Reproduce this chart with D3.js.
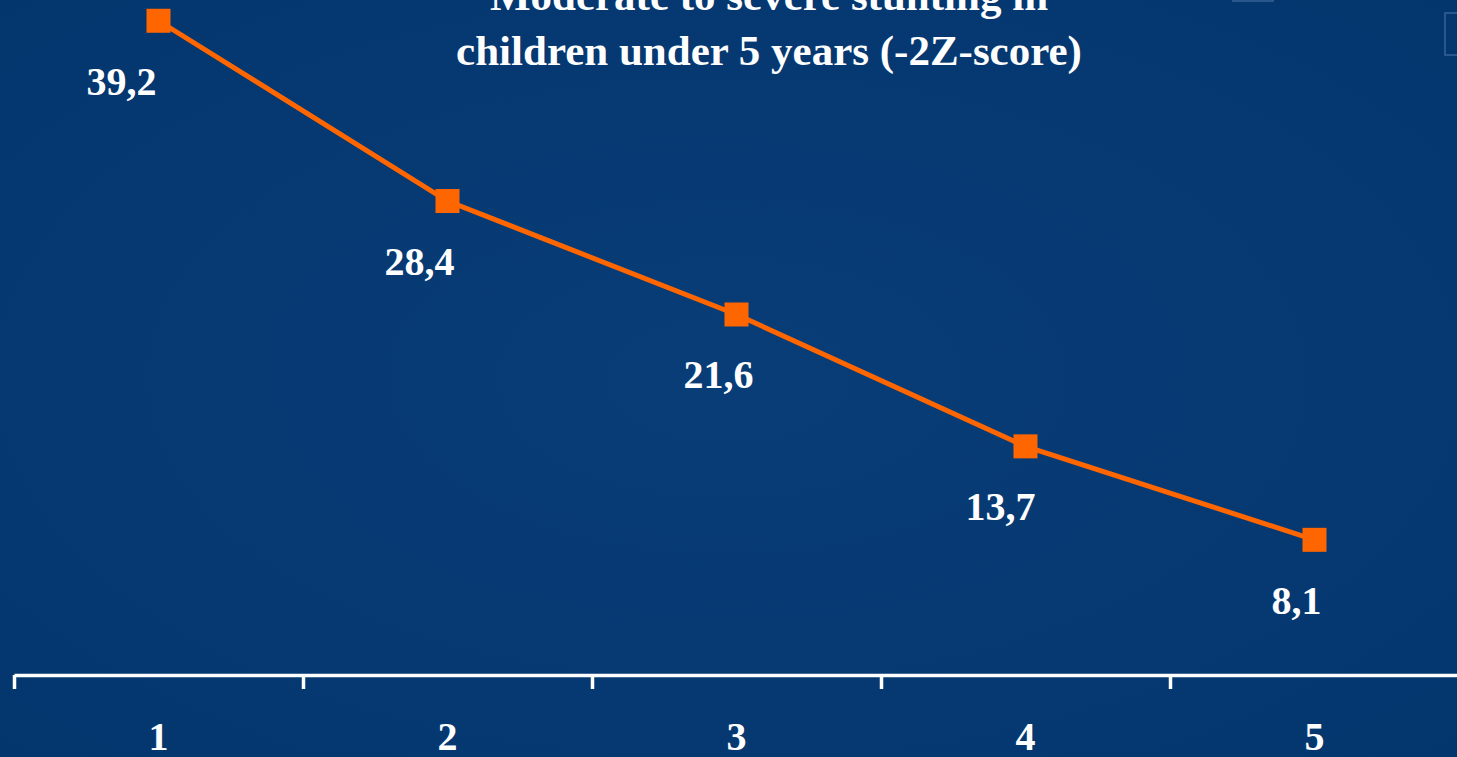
<!DOCTYPE html>
<html>
<head>
<meta charset="utf-8">
<script src="https://cdn.jsdelivr.net/npm/d3@7"></script>
<style>
  html, body { margin: 0; padding: 0; background: #053971; overflow: hidden; }
  svg { display: block; }
  text { font-family: "Liberation Serif", "Times New Roman", serif; font-weight: bold; fill: #ffffff; }
</style>
</head>
<body>
<svg id="chart" width="1457" height="757"></svg>
<script>
// Survey rounds and stunting prevalence (%)
const categories = ["1", "2", "3", "4", "5"];
const stunting = [39.2, 28.4, 21.6, 13.7, 8.1];
const valueLabels = ["39,2", "28,4", "21,6", "13,7", "8,1"];
const titleLines = ["Moderate to severe stunting in", "children under 5 years (-2Z-score)"];

const W = 1457, H = 757;
const svg = d3.select("#chart");

// Background: deep blue with a slightly lighter centre
const defs = svg.append("defs");
const grad = defs.append("radialGradient").attr("id", "bg")
  .attr("cx", "50%").attr("cy", "50%").attr("r", "70%");
grad.append("stop").attr("offset", "0%").attr("stop-color", "#093d77");
grad.append("stop").attr("offset", "100%").attr("stop-color", "#04366e");
svg.append("rect").attr("width", W).attr("height", H).attr("fill", "url(#bg)");

// Faint outline boxes in the top-right corner
svg.append("rect").attr("x", 1233).attr("y", -20).attr("width", 40).attr("height", 21)
  .attr("fill", "none").attr("stroke", "#5a7fb0").attr("stroke-opacity", 0.6).attr("stroke-width", 1.5);
svg.append("rect").attr("x", 1445).attr("y", 13).attr("width", 30).attr("height", 42)
  .attr("fill", "none").attr("stroke", "#5a7fb0").attr("stroke-opacity", 0.6).attr("stroke-width", 1.5);

// Scales: x as a continuous index so ticks sit between categories
const x = d3.scaleLinear().domain([0.5, categories.length + 0.5]).range([14, 1459]);
const y = d3.scaleLinear().domain([0, 45]).range([675, 675 - 45 * 16.69]);

// Axis along the bottom
const boundaries = d3.range(0.5, categories.length + 1, 1);
const axis = d3.axisBottom(x).tickValues(boundaries).tickFormat("").tickSize(14).tickSizeOuter(0);
const axG = svg.append("g").attr("transform", `translate(0,${y(0)})`).call(axis);
axG.select(".domain").attr("stroke", "#ffffff").attr("stroke-width", 3.5);
axG.selectAll(".tick line").attr("stroke", "#ffffff").attr("stroke-width", 3.5);

// Category labels
svg.append("g").selectAll("text").data(categories).join("text")
  .attr("x", (d, i) => x(i + 1))
  .attr("y", 750)
  .attr("text-anchor", "middle")
  .attr("font-size", 40)
  .text(d => d);

// Line
const line = d3.line().x((d, i) => x(i + 1)).y(d => y(d));
svg.append("path").datum(stunting)
  .attr("d", line)
  .attr("fill", "none")
  .attr("stroke", "#ff6600")
  .attr("stroke-width", 5);

// Square markers
const ms = 24;
svg.append("g").selectAll("rect").data(stunting).join("rect")
  .attr("x", (d, i) => x(i + 1) - ms / 2)
  .attr("y", d => y(d) - ms / 2)
  .attr("width", ms).attr("height", ms)
  .attr("fill", "#ff6600");

// Value labels sit below and a little to the left of each point
const labelShift = [-37, -28, -18, -25, -18];
svg.append("g").selectAll("text").data(stunting).join("text")
  .attr("x", (d, i) => x(i + 1) + labelShift[i])
  .attr("y", d => y(d) + 74)
  .attr("text-anchor", "middle")
  .attr("font-size", 40)
  .text((d, i) => valueLabels[i]);

// Title
svg.append("g").selectAll("text").data(titleLines).join("text")
  .attr("x", 769)
  .attr("y", (d, i) => 10 + i * 55)
  .attr("text-anchor", "middle")
  .attr("font-size", 43)
  .text(d => d);
</script>
</body>
</html>
